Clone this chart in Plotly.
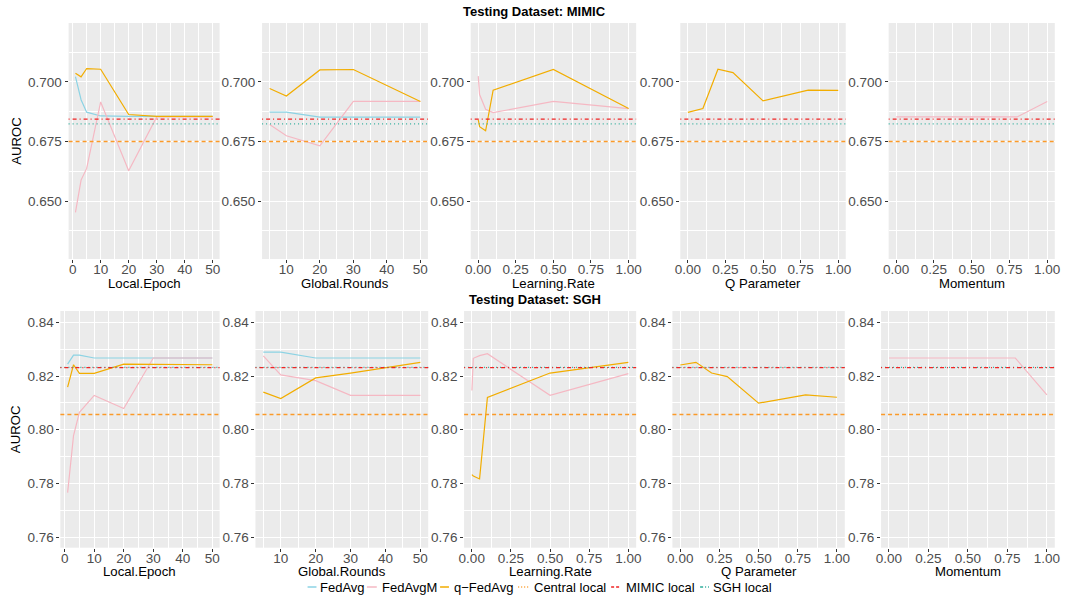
import plotly.graph_objects as go
from plotly.subplots import make_subplots

# ---------------- data ----------------
epoch_x = [1, 3, 5, 10, 20, 30, 50]
rounds_x = [5, 10, 20, 30, 50]
lr_x = [0.001, 0.01, 0.05, 0.1, 0.5, 1.0]
q_x = [0.0, 0.1, 0.2, 0.3, 0.5, 0.8, 1.0]
mom_x = [0.0, 0.5, 0.8, 1.0]

# MIMIC testing dataset
mimic_epoch_fedavg = [0.7022, 0.6925, 0.6873, 0.6857, 0.6855, 0.6855, 0.6855]
mimic_epoch_fedavgm = [0.6453, 0.6588, 0.6637, 0.6916, 0.6627, 0.6853, 0.6853]
mimic_epoch_qfedavg = [0.7036, 0.7021, 0.7056, 0.7053, 0.6863, 0.6855, 0.6855]
mimic_rounds_fedavg = [0.6873, 0.6873, 0.6852, 0.6852, 0.6852]
mimic_rounds_fedavgm = [0.6821, 0.6774, 0.6732, 0.6918, 0.6918]
mimic_rounds_qfedavg = [0.6972, 0.6941, 0.7050, 0.7052, 0.6918]
mimic_lr_fedavgm = [0.7024, 0.6947, 0.6885, 0.6871, 0.6918, 0.6888]
mimic_lr_qfedavg = [0.6842, 0.6812, 0.6795, 0.6965, 0.7052, 0.6888]
mimic_q_qfedavg = [0.6872, 0.6888, 0.7053, 0.7039, 0.6920, 0.6965, 0.6964]
mimic_mom_fedavgm = [0.6853, 0.6853, 0.6853, 0.6918]
mimic_central_local = 0.6750
mimic_mimic_local = 0.6844
mimic_sgh_local = 0.6824

# SGH testing dataset
sgh_epoch_fedavg = [0.8244, 0.8278, 0.8278, 0.8267, 0.8267, 0.8267, 0.8267]
sgh_epoch_fedavgm = [0.7766, 0.7978, 0.8065, 0.8128, 0.8079, 0.8267, 0.8267]
sgh_epoch_qfedavg = [0.8159, 0.8242, 0.8210, 0.8210, 0.8244, 0.8244, 0.8242]
sgh_rounds_fedavg = [0.8289, 0.8289, 0.8267, 0.8267, 0.8267]
sgh_rounds_fedavgm = [0.8275, 0.8204, 0.8183, 0.8128, 0.8128]
sgh_rounds_qfedavg = [0.8140, 0.8116, 0.8193, 0.8211, 0.8251]
sgh_lr_fedavgm = [0.8146, 0.8266, 0.8276, 0.8283, 0.8128, 0.8209]
sgh_lr_qfedavg = [0.7833, 0.7828, 0.7817, 0.8120, 0.8211, 0.8251]
sgh_q_qfedavg = [0.8241, 0.8251, 0.8211, 0.8198, 0.8099, 0.8130, 0.8121]
sgh_mom_fedavgm = [0.8267, 0.8267, 0.8267, 0.8130]
sgh_central_local = 0.8057
sgh_mimic_local = 0.8231
sgh_sgh_local = 0.8232

x_titles = ["Local.Epoch", "Global.Rounds", "Learning.Rate", "Q Parameter", "Momentum"]
row_titles = ["Testing Dataset: MIMIC", "Testing Dataset: SGH"]
legend_names = ["FedAvg", "FedAvgM", "q\u2212FedAvg", "Central local", "MIMIC local", "SGH local"]

epoch_ticks = [0, 10, 20, 30, 40, 50]
rounds_ticks = [10, 20, 30, 40, 50]
unit_ticks = [0.0, 0.25, 0.5, 0.75, 1.0]
mimic_yticks = [0.650, 0.675, 0.700]
sgh_yticks = [0.76, 0.78, 0.80, 0.82, 0.84]

# ---------------- styling ----------------
W, H = 1068, 598
FONT = "Liberation Sans, Arial, Helvetica, sans-serif"
C_FEDAVG = "#8cd3e4"
C_FEDAVGM = "#f5b8c3"
C_QFEDAVG = "#f2ad00"
C_CENTRAL = "#fb9a29"
C_MIMIC = "#f02424"
C_SGH = "#2fae9c"
LW = 1.2
DASH_CENTRAL = "4px,3px"
DASH_SGH = "1px,3px"
DASH_MIMIC = "1px,3px,4px,3px"

fig = make_subplots(rows=2, cols=5)

rows_data = [
    dict(epoch=(mimic_epoch_fedavg, mimic_epoch_fedavgm, mimic_epoch_qfedavg),
         rounds=(mimic_rounds_fedavg, mimic_rounds_fedavgm, mimic_rounds_qfedavg),
         lr=(mimic_lr_fedavgm, mimic_lr_qfedavg), q=mimic_q_qfedavg, mom=mimic_mom_fedavgm,
         refs=(mimic_central_local, mimic_mimic_local, mimic_sgh_local)),
    dict(epoch=(sgh_epoch_fedavg, sgh_epoch_fedavgm, sgh_epoch_qfedavg),
         rounds=(sgh_rounds_fedavg, sgh_rounds_fedavgm, sgh_rounds_qfedavg),
         lr=(sgh_lr_fedavgm, sgh_lr_qfedavg), q=sgh_q_qfedavg, mom=sgh_mom_fedavgm,
         refs=(sgh_central_local, sgh_mimic_local, sgh_sgh_local)),
]


def line(x, y, color, r, c):
    fig.add_trace(go.Scatter(x=x, y=y, mode="lines", line=dict(color=color, width=LW),
                             showlegend=False, hoverinfo="skip"), row=r, col=c)


for ri, d in enumerate(rows_data):
    r = ri + 1
    fa, fm, fq = d["epoch"]
    line(epoch_x, fa, C_FEDAVG, r, 1)
    line(epoch_x, fm, C_FEDAVGM, r, 1)
    line(epoch_x, fq, C_QFEDAVG, r, 1)
    fa, fm, fq = d["rounds"]
    line(rounds_x, fa, C_FEDAVG, r, 2)
    line(rounds_x, fm, C_FEDAVGM, r, 2)
    line(rounds_x, fq, C_QFEDAVG, r, 2)
    fm, fq = d["lr"]
    line(lr_x, fm, C_FEDAVGM, r, 3)
    line(lr_x, fq, C_QFEDAVG, r, 3)
    line(q_x, d["q"], C_QFEDAVG, r, 4)
    line(mom_x, d["mom"], C_FEDAVGM, r, 5)
    cen, mim, sgh = d["refs"]
    for c in range(1, 6):
        fig.add_hline(y=cen, line=dict(color=C_CENTRAL, width=1.5, dash=DASH_CENTRAL), row=r, col=c)
        fig.add_hline(y=sgh, line=dict(color=C_SGH, width=1.3, dash=DASH_SGH), row=r, col=c)
        fig.add_hline(y=mim, line=dict(color=C_MIMIC, width=1.3, dash=DASH_MIMIC), row=r, col=c)

# ---------------- axes / layout ----------------
top_x_px = [(63.3, 216), (259, 426.7), (470, 637.3), (682, 849.3), (892.7, 1060.7)]
bot_x_px = [(55, 216), (252.3, 427), (463.3, 637.3), (674, 848.3), (885, 1060.7)]
top_y_px = (23, 259)
bot_y_px = (311, 547.7)
xtitle_y_px = [283.5, 571.5]
title_y_px = [12, 299.5]

x_ranges = [[-1.45, 52.45], [2.75, 52.25], [-0.04895, 1.04995], [-0.05, 1.05], [-0.05, 1.05]]
x_ticks = [epoch_ticks, rounds_ticks, unit_ticks, unit_ticks, unit_ticks]
x_ticktext = [[str(v) for v in epoch_ticks], [str(v) for v in rounds_ticks]] + \
             [["%.2f" % v for v in unit_ticks]] * 3


def minors(ticks, lo, hi):
    step = ticks[1] - ticks[0]
    out = []
    v = ticks[0] - step / 2
    while v <= hi:
        if v >= lo:
            out.append(v)
        v += step
    return out


y_ranges = [[0.6257, 0.7247], [0.7561, 0.8442]]
y_ticks = [mimic_yticks, sgh_yticks]
y_fmt = ["%.3f", "%.2f"]

grid = dict(showgrid=True, gridcolor="white", gridwidth=1.1, zeroline=False, showline=False,
            ticks="outside", ticklen=3, tickcolor="#333333", tickwidth=1,
            tickfont=dict(family=FONT, size=13.5, color="#4d4d4d"))

annotations = []
for ri in range(2):
    xp = top_x_px if ri == 0 else bot_x_px
    yp = top_y_px if ri == 0 else bot_y_px
    for ci in range(5):
        n = ri * 5 + ci + 1
        xa = "xaxis" if n == 1 else "xaxis%d" % n
        ya = "yaxis" if n == 1 else "yaxis%d" % n
        fig.layout[xa].update(
            domain=[xp[ci][0] / W, xp[ci][1] / W], range=x_ranges[ci],
            tickmode="array", tickvals=x_ticks[ci], ticktext=x_ticktext[ci],
            ticklabelstandoff=-5,
            minor=dict(tickvals=minors(x_ticks[ci], *x_ranges[ci]), showgrid=True,
                       gridcolor="white", gridwidth=0.55, ticks=""),
            **grid)
        fig.layout[ya].update(
            domain=[1 - yp[1] / H, 1 - yp[0] / H], range=y_ranges[ri],
            tickmode="array", tickvals=y_ticks[ri], ticktext=[y_fmt[ri] % v for v in y_ticks[ri]],
            minor=dict(tickvals=minors(y_ticks[ri], *y_ranges[ri]), showgrid=True,
                       gridcolor="white", gridwidth=0.55, ticks=""),
            **grid)
        if ci == 0:
            fig.layout[ya].title = dict(text="AUROC", font=dict(family=FONT, size=13.2, color="black"),
                                        standoff=3)
        # x-axis title (placed as in the reference)
        annotations.append(dict(text=x_titles[ci], x=(xp[ci][0] + xp[ci][1]) / 2 / W,
                                y=1 - xtitle_y_px[ri] / H, xref="paper", yref="paper",
                                showarrow=False, xanchor="center", yanchor="middle",
                                font=dict(family=FONT, size=13.2, color="black")))
    annotations.append(dict(text="<b>%s</b>" % row_titles[ri], x=535 / W, y=1 - title_y_px[ri] / H,
                            xref="paper", yref="paper", showarrow=False,
                            font=dict(family=FONT, size=13, color="black"),
                            xanchor="center", yanchor="middle"))

# ---------------- legend (compact, ggplot-like keys) ----------------
legend_y_px = 587
legend_key_px = [(305, 314), (365, 375), (439, 448), (518, 529), (612, 622), (702, 711)]
legend_text_px = [316, 378, 451, 532, 625, 713]
legend_styles = [
    (C_FEDAVG, "solid"), (C_FEDAVGM, "solid"), (C_QFEDAVG, "solid"),
    (C_CENTRAL, "1px,2px"), (C_MIMIC, "3px,2px"), (C_SGH, "3px,2px,1px,2px"),
]
shapes = []
for name, (k0, k1), tx, (col, dash) in zip(legend_names, legend_key_px, legend_text_px, legend_styles):
    shapes.append(dict(type="line", xref="paper", yref="paper", x0=k0 / W, x1=k1 / W,
                       y0=1 - legend_y_px / H, y1=1 - legend_y_px / H,
                       line=dict(color=col, width=1.5, dash=dash)))
    annotations.append(dict(text=name, x=tx / W, y=1 - legend_y_px / H, xref="paper", yref="paper",
                            showarrow=False, xanchor="left", yanchor="middle",
                            font=dict(family=FONT, size=13, color="black")))

fig.update_layout(
    width=W, height=H, autosize=False,
    margin=dict(l=0, r=0, t=0, b=0, pad=0),
    paper_bgcolor="white", plot_bgcolor="#ebebeb",
    font=dict(family=FONT, size=13, color="black"),
    annotations=annotations,
    showlegend=False,
)
fig.update_layout(shapes=list(fig.layout.shapes) + shapes)

fig.write_html("out.html", config={"displayModeBar": False},
               post_script="document.body.style.margin='0';document.body.style.padding='0';")
